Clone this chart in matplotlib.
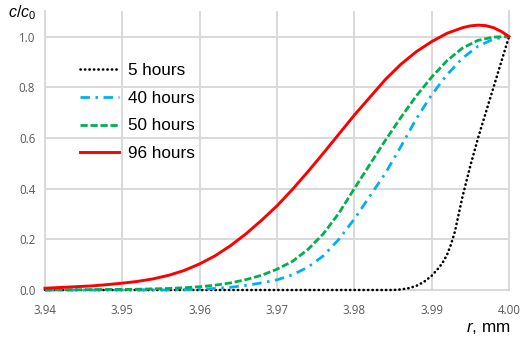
import matplotlib
matplotlib.use("Agg")
import matplotlib.pyplot as plt

plt.rcParams['font.family'] = ['Liberation Sans', 'DejaVu Sans']
plt.rcParams['mathtext.fontset'] = 'custom'
plt.rcParams['mathtext.rm'] = 'Liberation Sans'
plt.rcParams['mathtext.it'] = 'Liberation Sans:italic'

# ---- data ----
labels = ["5 hours", "40 hours", "50 hours", "96 hours"]

r_5h = [3.940, 3.985, 3.986, 3.987, 3.988, 3.989, 3.990, 3.991, 3.9915, 3.992,
        3.9925, 3.993, 3.9935, 3.994, 3.995, 3.996, 3.997, 3.998, 3.999, 4.000]
c_5h = [0.0, 0.0, 0.002, 0.007, 0.016, 0.032, 0.056, 0.09, 0.112, 0.14,
        0.18, 0.23, 0.30, 0.37, 0.49, 0.60, 0.70, 0.80, 0.90, 1.0]

r_40h = [3.940, 3.956, 3.958, 3.960, 3.962, 3.964, 3.966, 3.968, 3.970, 3.972,
         3.974, 3.976, 3.978, 3.980, 3.982, 3.984, 3.986, 3.988, 3.990, 3.992,
         3.994, 3.996, 3.998, 4.000]
c_40h = [0.0, 0.0, 0.001, 0.003, 0.006, 0.011, 0.018, 0.028, 0.040, 0.060,
         0.090, 0.135, 0.20, 0.28, 0.37, 0.46, 0.565, 0.675, 0.77, 0.85,
         0.915, 0.962, 0.99, 1.0]

r_50h = [3.940, 3.944, 3.948, 3.952, 3.956, 3.958, 3.960, 3.962, 3.964, 3.966,
         3.968, 3.970, 3.972, 3.974, 3.976, 3.978, 3.980, 3.982, 3.984, 3.986,
         3.988, 3.990, 3.992, 3.994, 3.996, 3.998, 4.000]
c_50h = [0.0, 0.001, 0.002, 0.003, 0.006, 0.009, 0.013, 0.019, 0.028, 0.041,
         0.058, 0.082, 0.113, 0.16, 0.222, 0.303, 0.40, 0.495, 0.59, 0.68,
         0.765, 0.84, 0.905, 0.955, 0.985, 0.998, 1.0]

r_96h = [3.940, 3.942, 3.944, 3.946, 3.948, 3.950, 3.952, 3.954, 3.956, 3.958,
         3.960, 3.962, 3.964, 3.966, 3.968, 3.970, 3.972, 3.974, 3.976, 3.978,
         3.980, 3.982, 3.984, 3.986, 3.988, 3.990, 3.992, 3.994, 3.995, 3.996,
         3.997, 3.998, 3.999, 4.000]
c_96h = [0.007, 0.010, 0.013, 0.016, 0.021, 0.027, 0.034, 0.044, 0.058, 0.077,
         0.103, 0.135, 0.175, 0.222, 0.275, 0.332, 0.397, 0.467, 0.54, 0.615,
         0.69, 0.76, 0.83, 0.89, 0.94, 0.98, 1.013, 1.035, 1.042, 1.045,
         1.043, 1.035, 1.02, 1.0]

x_ticks = [3.94, 3.95, 3.96, 3.97, 3.98, 3.99, 4.00]
y_ticks = [0.0, 0.2, 0.4, 0.6, 0.8, 1.0]

# ---- figure ----
fig = plt.figure(figsize=(5.25, 3.43), dpi=100)
ax = fig.add_axes([45/525, 1-290/343, (509-45)/525, (290-11.2)/343])

grid_c = '#D9D9D9'
ax.set_xlim(3.94, 4.00)
ax.set_ylim(0, 1.1)
ax.set_xticks(x_ticks)
ax.set_yticks(y_ticks)
ax.set_xticklabels([f"{v:.2f}" for v in x_ticks])
ax.set_yticklabels([f"{v:.1f}" for v in y_ticks])
ax.grid(True, color=grid_c, lw=1.4, zorder=0)
ax.set_axisbelow(True)
ax.spines['top'].set_visible(False)
for s in ['left', 'bottom', 'right']:
    ax.spines[s].set_color(grid_c)
    ax.spines[s].set_linewidth(1.4)
ax.tick_params(length=0, labelsize=8.3, labelcolor='#595959')
ax.tick_params(axis='x', pad=10)
ax.tick_params(axis='y', pad=7)
for t in ax.get_xticklabels() + ax.get_yticklabels():
    t.set_family(['Open Sans', 'DejaVu Sans'])

ax.plot(r_5h, c_5h, color='black', lw=1.9, linestyle=(0, (0.1, 1.6)),
        dash_capstyle='round', label=labels[0], zorder=3, clip_on=False)
ax.plot(r_40h, c_40h, color='#00B0F0', lw=2.0, linestyle=(0, (3.4, 2.0, 0.9, 2.0)),
        label=labels[1], zorder=3, clip_on=False)
ax.plot(r_50h, c_50h, color='#00B050', lw=2.0, linestyle=(0, (2.6, 1.0)),
        label=labels[2], zorder=3, clip_on=False)
ax.plot(r_96h, c_96h, color='#FF0000', lw=2.1, label=labels[3], zorder=4, clip_on=False)

leg = ax.legend(loc='upper left', bbox_to_anchor=(0.061, 0.838), frameon=False,
                fontsize=12.3, handlelength=2.3, handletextpad=0.5, labelspacing=0.74,
                borderaxespad=0)

fig.text(8/525, 1-13/343, r'$c/c_0$', fontsize=11.5, va='center', ha='left')
fig.text(511/525, 1-328/343, r'$r$, mm', fontsize=12.3, va='center', ha='right')

fig.savefig('out.png', dpi=100)
